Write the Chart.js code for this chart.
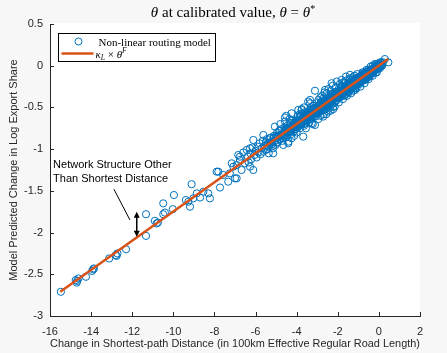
<!DOCTYPE html>
<html><head><meta charset="utf-8">
<script src="https://cdn.jsdelivr.net/npm/chart.js@4.4.1/dist/chart.umd.min.js"></script>
<style>html,body{margin:0;padding:0;background:#f7f7f7;}canvas{display:block;}</style>
</head><body>
<canvas id="c" width="447" height="353"></canvas>
<script>
// ---- data ----
const modelPoints = [
[-15.47,-2.71],[-14.75,-2.57],[-14.70,-2.60],[-14.62,-2.55],[-14.68,-2.58],[-14.25,-2.53],[-13.95,-2.46],[-13.86,-2.43],[-13.90,-2.44],
[-13.12,-2.31],[-12.80,-2.27],[-12.72,-2.25],[-12.76,-2.28],[-12.30,-2.20],[-11.33,-2.04],[-11.33,-1.78],[-10.81,-1.89],[-10.75,-1.88],
[-10.90,-1.86],[-10.41,-1.76],[-10.49,-1.78],[-10.03,-1.72],[-10.49,-1.65],[-9.97,-1.55],[-9.39,-1.61],[-9.27,-1.63],[-9.19,-1.69],
[-9.03,-1.59],[-8.86,-1.53],[-8.70,-1.58],[-8.54,-1.51],[-8.30,-1.53],[-8.22,-1.59],[-9.11,-1.42],[-7.81,-1.27],[-7.57,-1.31],
[-7.73,-1.46],[-7.25,-1.29],[-7.00,-1.35],[-7.33,-1.39],[-7.08,-1.21],[-7.16,-1.17],[-6.84,-1.07],[-6.76,-1.13],[-6.60,-1.04],
[-6.43,-1.01],[-6.68,-1.25],[-6.52,-1.17],[-6.92,-1.19],[-7.89,-1.27],[-6.92,-1.35],[-6.76,-1.09],[-6.27,-0.99],[-6.27,-1.21],
[-6.38,-1.09],[-6.33,-1.16],[-6.25,-1.05],[-6.21,-1.12],[-6.15,-0.98],[-6.11,-0.89],[-6.11,-1.25],[-6.05,-1.07],[-6.00,-1.02],
[-5.95,-1.10],[-5.90,-0.97],[-5.86,-1.04],[-5.80,-0.93],[-5.76,-1.06],[-5.70,-0.99],[-5.65,-0.90],[-5.62,-1.03],[-5.62,-0.83],
[-5.55,-0.96],[-5.50,-1.01],[-5.45,-0.88],[-5.40,-0.95],[-5.36,-1.05],[-5.30,-0.92],[-5.25,-0.86],[-5.20,-0.94],[-5.15,-0.99],
[-5.14,-1.05],[-5.10,-0.84],[-5.06,-0.73],[-5.05,-0.90],[-5.02,-0.95],
[-4.98,-0.86],[-4.95,-0.80],[-4.92,-0.92],[-4.88,-0.85],[-4.85,-0.78],[-4.80,-0.88],[-4.77,-0.83],[-4.74,-0.76],[-4.70,-0.90],
[-4.66,-0.81],[-4.62,-0.84],[-4.60,-0.74],[-4.57,-0.62],[-4.57,-0.67],[-4.55,-0.79],[-4.52,-0.86],[-4.48,-0.77],[-4.45,-0.72],
[-4.42,-0.80],[-4.41,-0.93],[-4.40,-0.91],[-4.37,-0.75],[-4.33,-0.78],[-4.30,-0.69],[-4.27,-0.82],[-4.25,-0.57],[-4.24,-0.74],
[-4.20,-0.66],[-4.18,-0.77],[-4.15,-0.71],[-4.12,-0.84],[-4.10,-0.73],[-4.07,-0.68],[-4.05,-0.76],[-4.02,-0.70],[-4.00,-0.80],
[-4.50,-0.60],[-4.80,-0.70],[-4.25,-0.87],[-4.65,-0.95],[-4.35,-0.64],
[-3.98,-0.66],[-3.96,-0.73],[-3.92,-0.53],[-3.90,-0.69],[-3.88,-0.62],[-3.85,-0.75],[-3.83,-0.67],[-3.80,-0.60],[-3.78,-0.70],
[-3.76,-0.53],[-3.75,-0.64],[-3.72,-0.58],[-3.70,-0.68],[-3.68,-0.85],[-3.66,-0.62],[-3.64,-0.72],[-3.62,-0.56],[-3.60,-0.65],
[-3.58,-0.61],[-3.56,-0.69],[-3.54,-0.59],[-3.52,-0.63],[-3.50,-0.55],[-3.48,-0.66],[-3.46,-0.60],[-3.44,-0.43],[-3.42,-0.62],
[-3.40,-0.57],[-3.38,-0.68],[-3.36,-0.54],[-3.35,-0.41],[-3.34,-0.60],[-3.32,-0.64],[-3.30,-0.50],[-3.28,-0.58],[-3.27,-0.69],
[-3.26,-0.62],[-3.24,-0.53],[-3.22,-0.70],[-3.20,-0.56],[-3.18,-0.48],[-3.16,-0.59],[-3.14,-0.52],[-3.11,-0.30],[-3.11,-0.71],
[-3.10,-0.55],[-3.08,-0.61],[-3.06,-0.50],[-3.04,-0.57],[-3.02,-0.45],[-3.00,-0.53],[-3.95,-0.60],[-3.75,-0.52],[-3.55,-0.75],
[-3.35,-0.45],[-3.85,-0.58],[-3.65,-0.50],
[-2.98,-0.50],[-2.96,-0.56],[-2.94,-0.41],[-2.92,-0.52],[-2.90,-0.47],[-2.88,-0.55],[-2.86,-0.50],[-2.84,-0.60],[-2.82,-0.44],
[-2.80,-0.49],[-2.78,-0.53],[-2.76,-0.36],[-2.74,-0.47],[-2.72,-0.51],[-2.71,-0.61],[-2.70,-0.43],[-2.68,-0.58],[-2.66,-0.46],
[-2.64,-0.49],[-2.62,-0.29],[-2.62,-0.40],[-2.60,-0.45],[-2.58,-0.52],[-2.56,-0.44],[-2.54,-0.33],[-2.52,-0.47],[-2.50,-0.42],
[-2.48,-0.55],[-2.46,-0.41],[-2.44,-0.46],[-2.42,-0.38],[-2.40,-0.44],[-2.38,-0.50],[-2.36,-0.40],[-2.34,-0.30],[-2.32,-0.43],
[-2.30,-0.21],[-2.30,-0.39],[-2.28,-0.46],[-2.26,-0.37],[-2.24,-0.41],[-2.22,-0.49],[-2.22,-0.52],[-2.20,-0.35],[-2.18,-0.40],
[-2.16,-0.44],[-2.14,-0.33],[-2.12,-0.38],[-2.10,-0.26],[-2.08,-0.42],[-2.06,-0.35],[-2.05,-0.19],[-2.04,-0.39],[-2.02,-0.31],
[-2.00,-0.37],[-2.85,-0.38],[-2.65,-0.32],[-2.45,-0.28],[-2.25,-0.24],[-2.95,-0.64],[-2.55,-0.58],[-2.35,-0.54],[-2.15,-0.49],
[-2.70,-0.39],[-2.30,-0.34],
[-1.98,-0.33],[-1.96,-0.38],[-1.94,-0.30],[-1.92,-0.36],[-1.90,-0.22],[-1.88,-0.34],[-1.86,-0.29],[-1.84,-0.37],[-1.82,-0.31],
[-1.81,-0.17],[-1.80,-0.27],[-1.78,-0.35],[-1.76,-0.30],[-1.74,-0.20],[-1.72,-0.32],[-1.70,-0.28],[-1.68,-0.36],[-1.66,-0.26],
[-1.64,-0.30],[-1.62,-0.18],[-1.60,-0.13],[-1.60,-0.29],[-1.57,-0.33],[-1.55,-0.25],[-1.53,-0.30],[-1.51,-0.23],[-1.49,-0.27],
[-1.47,-0.32],[-1.45,-0.22],[-1.43,-0.26],[-1.41,-0.11],[-1.41,-0.15],[-1.39,-0.25],[-1.37,-0.21],[-1.35,-0.28],[-1.33,-0.23],
[-1.31,-0.19],[-1.29,-0.26],[-1.27,-0.21],[-1.25,-0.30],[-1.23,-0.18],[-1.21,-0.22],[-1.19,-0.12],[-1.17,-0.20],[-1.15,-0.24],
[-1.13,-0.17],[-1.11,-0.21],[-1.09,-0.27],[-1.07,-0.16],[-1.05,-0.19],[-1.03,-0.22],[-1.01,-0.14],[-1.00,-0.18],[-1.95,-0.44],
[-1.75,-0.40],[-1.55,-0.36],[-1.35,-0.33],[-1.15,-0.29],[-1.85,-0.24],[-1.65,-0.21],[-1.45,-0.17],[-1.25,-0.14],[-1.05,-0.10],
[-0.98,-0.16],[-0.96,-0.20],[-0.94,-0.13],[-0.92,-0.18],[-0.90,-0.15],[-0.88,-0.19],[-0.86,-0.12],[-0.84,-0.16],[-0.82,-0.14],
[-0.80,-0.18],[-0.78,-0.11],[-0.76,-0.09],[-0.76,-0.15],[-0.74,-0.13],[-0.72,-0.17],[-0.70,-0.10],[-0.68,-0.14],[-0.66,-0.12],
[-0.64,-0.16],[-0.62,-0.09],[-0.60,-0.13],[-0.58,-0.10],[-0.56,-0.14],[-0.54,-0.08],[-0.52,-0.11],[-0.50,-0.09],[-0.48,-0.12],
[-0.46,-0.07],[-0.44,-0.10],[-0.42,-0.06],[-0.40,-0.09],[-0.38,-0.05],[-0.36,-0.08],[-0.34,-0.06],[-0.32,-0.09],[-0.30,-0.04],
[-0.28,-0.07],[-0.26,-0.05],[-0.24,-0.03],[-0.22,-0.06],[-0.20,-0.04],[-0.18,-0.02],[-0.16,-0.05],[-0.14,-0.03],[-0.12,-0.01],
[-0.10,-0.04],[-0.08,-0.02],[-0.06,0.00],[-0.04,-0.02],[-0.02,0.01],[0.00,-0.01],[0.05,0.01],[0.10,0.03],[0.15,0.00],[0.20,0.04],
[0.29,0.08],[0.46,0.04],[-0.90,-0.25],[-0.70,-0.21],[-0.50,-0.16],[-0.30,-0.12],[-0.10,-0.08],[-0.80,-0.08],[-0.60,-0.05],
[-0.40,-0.01],[-0.20,0.02],
// dense band
[-5.50,-0.92],[-5.45,-1.00],[-5.40,-0.93],[-5.35,-0.97],[-5.30,-0.87],[-5.25,-0.93],[-5.20,-0.91],[-5.15,-0.96],[-5.10,-0.86],[-5.05,-0.90],
[-5.00,-0.84],[-4.95,-0.92],[-4.90,-0.84],[-4.85,-0.88],[-4.80,-0.78],[-4.75,-0.84],[-4.70,-0.82],[-4.65,-0.87],[-4.60,-0.78],[-4.55,-0.82],
[-4.50,-0.75],[-4.45,-0.83],[-4.40,-0.75],[-4.35,-0.79],[-4.30,-0.69],[-4.25,-0.75],[-4.20,-0.74],[-4.15,-0.79],[-4.10,-0.69],[-4.05,-0.73],
[-4.00,-0.66],[-3.95,-0.74],[-3.90,-0.66],[-3.85,-0.70],[-3.80,-0.61],[-3.75,-0.67],[-3.70,-0.65],[-3.65,-0.70],[-3.60,-0.60],[-3.55,-0.64],
[-3.50,-0.57],[-3.45,-0.65],[-3.40,-0.58],[-3.35,-0.62],[-3.30,-0.52],[-3.25,-0.58],[-3.20,-0.56],[-3.15,-0.61],[-3.10,-0.51],[-3.05,-0.55],
[-3.00,-0.49],[-2.95,-0.57],[-2.90,-0.49],[-2.85,-0.53],[-2.80,-0.43],[-2.75,-0.49],[-2.70,-0.47],[-2.65,-0.52],[-2.60,-0.43],[-2.55,-0.47],
[-2.50,-0.40],[-2.45,-0.48],[-2.40,-0.40],[-2.35,-0.44],[-2.30,-0.34],[-2.25,-0.40],[-2.20,-0.39],[-2.15,-0.44],[-2.10,-0.34],[-2.05,-0.38],
[-2.00,-0.31],[-1.95,-0.39],[-1.90,-0.31],[-1.85,-0.35],[-1.80,-0.26],[-1.75,-0.32],[-1.70,-0.30],[-1.65,-0.35],[-1.60,-0.25],[-1.55,-0.29],
[-1.50,-0.22],[-1.45,-0.30],[-1.40,-0.23],[-1.35,-0.27],[-1.30,-0.17],[-1.25,-0.23],[-1.20,-0.21],[-1.15,-0.26],[-1.10,-0.16],[-1.05,-0.20],
[-1.00,-0.14],[-0.95,-0.22],[-0.90,-0.14],[-0.85,-0.18],[-0.80,-0.10],[-0.75,-0.14],[-0.70,-0.12],[-0.65,-0.17],[-0.60,-0.08],[-0.55,-0.12],
[-0.50,-0.05],[-0.45,-0.13],[-0.40,-0.05],[-0.35,-0.09],[-0.30,0.00],[-0.25,-0.05],[-0.20,-0.04],[-0.15,-0.08],[-0.10,0.01],[-0.05,-0.03],
[0.00,0.03],[0.05,-0.03],[0.10,0.04],[0.15,0.00],
[-4.48,-0.80],[-4.43,-0.75],[-4.38,-0.78],[-4.33,-0.74],[-4.28,-0.79],[-4.23,-0.73],[-4.18,-0.73],[-4.13,-0.68],[-4.08,-0.74],[-4.03,-0.70],
[-3.98,-0.72],[-3.93,-0.66],[-3.88,-0.69],[-3.83,-0.65],[-3.78,-0.70],[-3.73,-0.64],[-3.68,-0.64],[-3.63,-0.60],[-3.58,-0.66],[-3.53,-0.61],
[-3.48,-0.63],[-3.43,-0.57],[-3.38,-0.60],[-3.33,-0.56],[-3.28,-0.61],[-3.23,-0.56],[-3.18,-0.56],[-3.13,-0.51],[-3.08,-0.57],[-3.03,-0.52],
[-2.98,-0.54],[-2.93,-0.48],[-2.88,-0.51],[-2.83,-0.48],[-2.78,-0.53],[-2.73,-0.47],[-2.68,-0.47],[-2.63,-0.42],[-2.58,-0.48],[-2.53,-0.43],
[-2.48,-0.45],[-2.43,-0.40],[-2.38,-0.43],[-2.33,-0.39],[-2.28,-0.44],[-2.23,-0.38],[-2.18,-0.38],[-2.13,-0.33],[-2.08,-0.39],[-2.03,-0.35],
[-1.98,-0.37],[-1.93,-0.31],[-1.88,-0.34],[-1.83,-0.30],[-1.78,-0.35],[-1.73,-0.29],[-1.68,-0.29],[-1.63,-0.25],[-1.58,-0.31],[-1.53,-0.26],
[-1.48,-0.28],[-1.43,-0.22],[-1.38,-0.25],[-1.33,-0.21],[-1.28,-0.26],[-1.23,-0.21],[-1.18,-0.21],[-1.13,-0.16],[-1.08,-0.22],[-1.03,-0.17],
[-0.98,-0.19],[-0.93,-0.13],[-0.88,-0.16],[-0.83,-0.13],[-0.78,-0.18],[-0.73,-0.12],[-0.68,-0.12],[-0.63,-0.07],[-0.58,-0.13],[-0.53,-0.08],
[-0.48,-0.10],[-0.43,-0.05],[-0.38,-0.08],[-0.33,-0.04],[-0.28,-0.09],[-0.23,-0.03],[-0.18,-0.03],[-0.13,0.02],[-0.08,-0.04],[-0.03,0.00],
[0.02,-0.02],[0.07,0.04],[0.12,0.01]
];
const fitX = [-15.5, 0.45];
const fitY = [-2.71, 0.08];
const xTickValues = [-16, -14, -12, -10, -8, -6, -4, -2, 0, 2];
const yTickValues = [-3, -2.5, -2, -1.5, -1, -0.5, 0, 0.5];
const xTitle = 'Change in Shortest-path Distance (in 100km Effective Regular Road Length)';
const yTitle = 'Model Predicted Change in Log Export Share';
const seriesNames = ['Non-linear routing model', 'κL × θF'];
const noteLines = ['Network Structure Other', 'Than Shortest Distance'];
const noteAnchor = [-15.85, -1.19];
const notePointer = [[-12.89, -1.48], [-12.11, -1.85]];
const noteArrow = [[-11.78, -1.75], [-11.78, -2.05]];

const BLUE = '#0072BD', ORANGE = '#D95319', INK = '#262626';
const SANS = '"Liberation Sans", Arial, sans-serif';
const SERIF = '"Liberation Serif", "Times New Roman", serif';

function drawRuns(ctx, runs, x, y, align, baseSize) {
  let w = 0;
  const fontOf = r => (r.i ? 'italic ' : '') + (r.s || baseSize) + 'px ' + SERIF;
  runs.forEach(r => { ctx.font = fontOf(r); w += ctx.measureText(r.t).width; });
  let cx = align === 'center' ? x - w / 2 : x;
  ctx.textAlign = 'left'; ctx.textBaseline = 'alphabetic';
  runs.forEach(r => { ctx.font = fontOf(r); ctx.fillText(r.t, cx, y + (r.dy || 0)); cx += ctx.measureText(r.t).width; });
}

const deco = {
  id: 'deco',
  beforeDraw(chart) {
    const {ctx, chartArea: a} = chart;
    ctx.save();
    ctx.fillStyle = '#f7f7f7'; ctx.fillRect(0, 0, chart.width, chart.height);
    ctx.fillStyle = '#ffffff'; ctx.fillRect(a.left, a.top - 1, a.right - a.left, a.bottom - a.top + 1);
    ctx.restore();
  },
  afterDraw(chart) {
    const {ctx, chartArea: a, scales: {x, y}} = chart;
    ctx.save();
    ctx.strokeStyle = INK; ctx.lineWidth = 1;
    ctx.beginPath();
    xTickValues.forEach(v => { const p = Math.round(x.getPixelForValue(v)) + 0.5; ctx.moveTo(p, a.bottom); ctx.lineTo(p, a.bottom - 4); });
    yTickValues.forEach(v => { const p = Math.round(y.getPixelForValue(v)) + 0.5; ctx.moveTo(a.left, p); ctx.lineTo(a.left + 4, p); });
    ctx.stroke();
    ctx.fillStyle = '#000';
    drawRuns(ctx, [{t:'θ',i:1},{t:' at calibrated value, '},{t:'θ',i:1},{t:' = '},{t:'θ',i:1},{t:'*',s:10,dy:-5}],
      (a.left + a.right) / 2 - 2, a.top - 7, 'center', 15);
    const lx = a.left + 8.5, ly = a.top + 9.5;
    ctx.fillStyle = '#fff'; ctx.fillRect(lx, ly, 157, 28);
    ctx.strokeStyle = '#000'; ctx.lineWidth = 1; ctx.strokeRect(lx, ly, 157, 28);
    ctx.strokeStyle = BLUE; ctx.beginPath(); ctx.arc(lx + 20, ly + 8, 3.5, 0, Math.PI * 2); ctx.stroke();
    ctx.fillStyle = '#000';
    drawRuns(ctx, [{t: seriesNames[0]}], lx + 40, ly + 12, 'left', 11);
    ctx.strokeStyle = ORANGE; ctx.lineWidth = 2.5; ctx.beginPath(); ctx.moveTo(lx + 3, ly + 20); ctx.lineTo(lx + 35, ly + 20); ctx.stroke();
    drawRuns(ctx, [{t:'κ',i:1},{t:'L',i:1,s:7.5,dy:2},{t:' × '},{t:'θ',i:1},{t:'F',i:1,s:7.5,dy:-5}], lx + 37, ly + 24, 'left', 11);
    ctx.fillStyle = '#000'; ctx.font = '11px ' + SANS; ctx.textAlign = 'left'; ctx.textBaseline = 'middle';
    const tx = x.getPixelForValue(noteAnchor[0]), ty = y.getPixelForValue(noteAnchor[1]);
    noteLines.forEach((s, i) => ctx.fillText(s, tx, ty + i * 14));
    ctx.strokeStyle = '#000'; ctx.lineWidth = 1; ctx.beginPath();
    ctx.moveTo(x.getPixelForValue(notePointer[0][0]), y.getPixelForValue(notePointer[0][1]));
    ctx.lineTo(x.getPixelForValue(notePointer[1][0]), y.getPixelForValue(notePointer[1][1]));
    ctx.stroke();
    const ax = x.getPixelForValue(noteArrow[0][0]), ay1 = y.getPixelForValue(noteArrow[0][1]), ay2 = y.getPixelForValue(noteArrow[1][1]);
    ctx.lineWidth = 1.5; ctx.beginPath(); ctx.moveTo(ax, ay1 + 3); ctx.lineTo(ax, ay2 - 3); ctx.stroke();
    ctx.beginPath();
    ctx.moveTo(ax, ay1); ctx.lineTo(ax - 3, ay1 + 6); ctx.lineTo(ax + 3, ay1 + 6); ctx.closePath();
    ctx.moveTo(ax, ay2); ctx.lineTo(ax - 3, ay2 - 6); ctx.lineTo(ax + 3, ay2 - 6); ctx.closePath();
    ctx.fill();
    ctx.restore();
  }
};

new Chart(document.getElementById('c'), {
  type: 'scatter',
  data: {
    datasets: [
      { label: seriesNames[1], type: 'line', data: fitX.map((v, i) => ({x: v, y: fitY[i]})),
        borderColor: ORANGE, borderWidth: 2.5, pointRadius: 0, fill: false, order: 0 },
      { label: seriesNames[0], data: modelPoints.map(p => ({x: p[0], y: p[1]})),
        pointStyle: 'circle', pointRadius: 3.6, borderWidth: 1, borderColor: BLUE,
        backgroundColor: 'rgba(0,0,0,0)', order: 1 }
    ]
  },
  options: {
    responsive: false, animation: false, devicePixelRatio: 1,
    layout: { padding: { left: 0, right: 27, top: 24, bottom: 0 } },
    plugins: { legend: { display: false }, tooltip: { enabled: false }, title: { display: false } },
    scales: {
      x: {
        type: 'linear', min: -16, max: 2,
        afterBuildTicks: s => { s.ticks = xTickValues.map(v => ({value: v})); },
        afterFit: s => { s.height = 37; },
        grid: { display: false, drawTicks: false },
        border: { display: true, color: INK, width: 1 },
        ticks: { color: INK, font: { family: SANS, size: 11 }, padding: 9, maxRotation: 0, callback: v => String(v) },
        title: { display: true, text: xTitle, color: INK, font: { family: SANS, size: 11 }, padding: { top: 0, bottom: 2 } }
      },
      y: {
        type: 'linear', min: -3, max: 0.5,
        afterBuildTicks: s => { s.ticks = yTickValues.map(v => ({value: v})); },
        afterFit: s => { s.width = 50; },
        grid: { display: false, drawTicks: false },
        border: { display: true, color: INK, width: 1 },
        ticks: { color: INK, font: { family: SANS, size: 11 }, padding: 7, callback: v => String(v) },
        title: { display: true, text: yTitle, color: INK, font: { family: SANS, size: 11 }, padding: { top: 7, bottom: 0 } }
      }
    }
  },
  plugins: [deco]
});
</script>
</body></html>
